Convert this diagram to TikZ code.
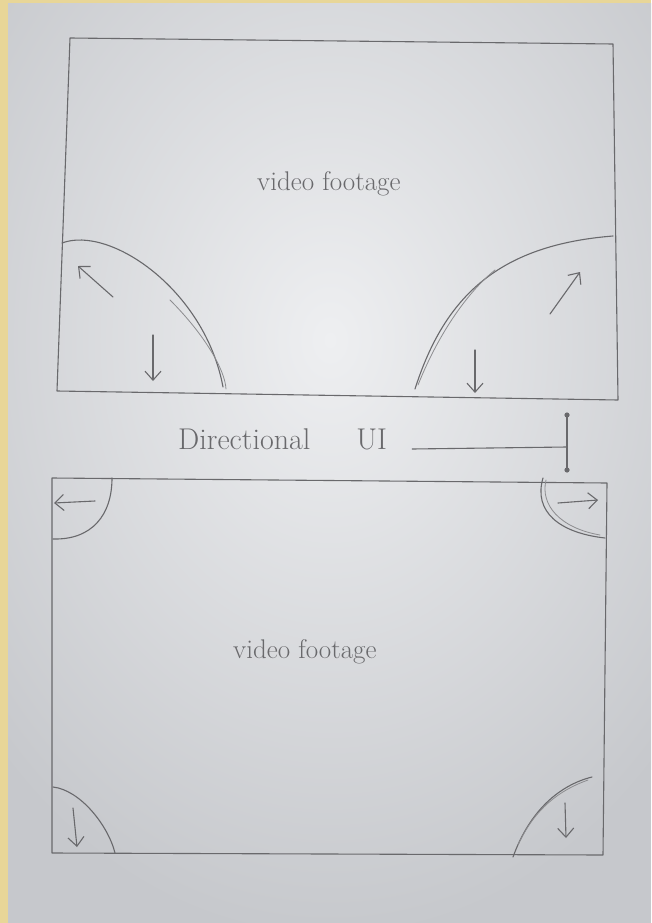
\documentclass[tikz,border=0pt]{standalone}
\usetikzlibrary{arrows.meta}
\definecolor{frame}{RGB}{232,214,152}
\definecolor{paper}{RGB}{198,200,204}
\definecolor{paperlight}{RGB}{238,239,241}
\definecolor{pencil}{RGB}{105,105,108}
\definecolor{pencilfaint}{RGB}{140,140,143}
\tikzset{
  sketch/.style={draw=pencil, line width=1.1pt, line cap=round, line join=round},
  faint/.style={draw=pencilfaint, line width=0.8pt, line cap=round},
  parrow/.style={sketch, -{Straight Barb[length=9pt,width=16pt,line width=1.1pt]}},
  hand/.style={text=pencil, inner sep=0pt, anchor=base west},
}
\begin{document}
\begin{tikzpicture}[x=1pt,y=-1pt]
\useasboundingbox (0,0) rectangle (651,923);
% background
\fill[frame] (0,0) rectangle (651,923);
\fill[paper] (8,4) rectangle (651,923);
\begin{scope}
\clip (8,4) rectangle (651,923);
\shade[inner color=paperlight, outer color=paper] (330,340) ellipse (460 and 600);
\end{scope}

% top frame
\draw[sketch] (70,38) -- (613,44) -- (618,400) -- (57,391) -- cycle;
\node[hand, font=\fontsize{27}{29}\selectfont] (vf1) at (257,190) {video footage};
% top-left corner region
\draw[sketch] (62,243) .. controls (110,225) and (205,290) .. (223,387);
\draw[faint] (170,300) .. controls (205,335) and (225,370) .. (226,389);
\draw[parrow] (113,297) -- (78,266);
\draw[parrow] (153,335) -- (153,381);
% top-right corner region
\draw[sketch] (415,389) .. controls (445,295) and (500,245) .. (613,236);
\draw[faint] (418,385) .. controls (440,330) and (470,290) .. (495,270);
\draw[parrow] (550,314) -- (580,272);
\draw[parrow] (475,350) -- (475,393);

% directional UI label and bracket
\node[hand, font=\fontsize{30}{32}\selectfont] (ui) at (178,449) {Directional\hspace{46pt}UI};
\coordinate (bartop) at (567,415);
\coordinate (barbot) at (567,470);
\coordinate (barmid) at (567,447);
\draw[sketch] (bartop) -- (barbot);
\fill[pencil] (bartop) circle (2.6) (barbot) circle (2.6);
\draw[sketch] ([xshift=25pt]ui.base east) -- (barmid);

% bottom frame
\draw[sketch] (52,478) -- (607,483) -- (603,855) -- (52,853) -- cycle;
\node[hand, font=\fontsize{27}{29}\selectfont] (vf2) at (233,658) {video footage};
% top-left
\draw[sketch] (112,478) .. controls (112,515) and (92,540) .. (53,539);
\draw[parrow] (95,501) -- (54,503);
% top-right
\draw[sketch] (543,478) .. controls (533,512) and (560,533) .. (605,538);
\draw[faint] (546,480) .. controls (540,505) and (560,528) .. (600,535);
\draw[parrow] (558,503) -- (598,500);
% bottom-left
\draw[sketch] (53,787) .. controls (80,790) and (108,825) .. (115,853);
\draw[parrow] (73,808) -- (77,847);
% bottom-right
\draw[sketch] (513,857) .. controls (530,810) and (560,785) .. (592,777);
\draw[faint] (518,845) .. controls (535,808) and (560,790) .. (588,780);
\draw[parrow] (565,803) -- (566,838);
\end{tikzpicture}
\end{document}
